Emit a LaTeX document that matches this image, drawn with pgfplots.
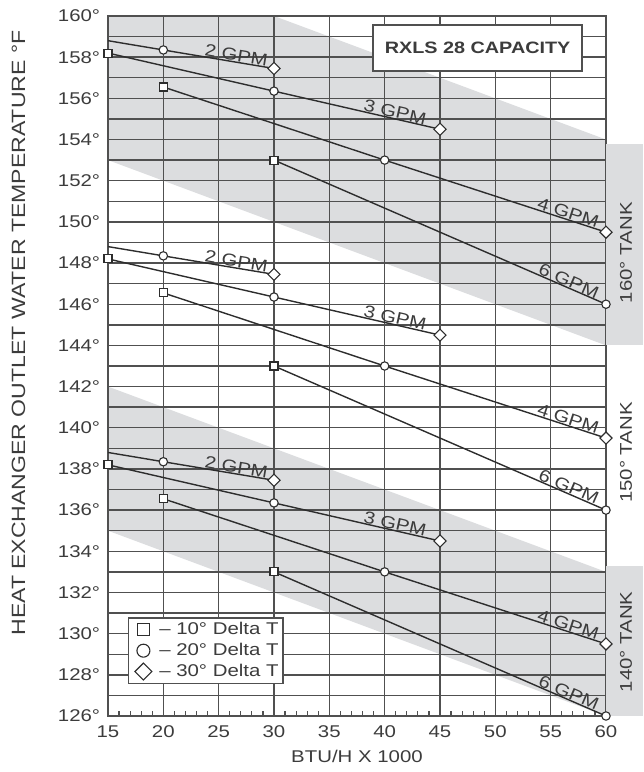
\documentclass[border=0pt]{standalone}
\usepackage{fontspec}
\setmainfont{Liberation Sans}[FakeStretch=1.2]
\usepackage{pgfplots}
\pgfplotsset{compat=1.18}
\definecolor{band}{RGB}{220,221,223}
\definecolor{gridc}{RGB}{80,80,80}
\definecolor{linec}{RGB}{45,45,45}
\definecolor{textc}{RGB}{60,60,60}
\begin{document}
\fontsize{17}{20}\selectfont
\begin{tikzpicture}
\begin{axis}[
  set layers,
  scale only axis, width=498pt, height=700pt,
  xmin=15, xmax=60, ymin=126, ymax=160,
  clip=false,
  xtick={15,20,...,60},
  xticklabels={15,20,25,30,35,40,45,50,55,60},
  ytick={126,128,...,160},
  yticklabels={126°,128°,130°,132°,134°,136°,138°,140°,142°,144°,146°,148°,150°,152°,154°,156°,158°,160°},
  minor x tick num=4, minor y tick num=1,
  xmajorgrids, ymajorgrids, yminorgrids,
  grid style={draw=gridc, line width=1.4pt},
  minor grid style={draw=gridc, line width=1.4pt},
  tick align=inside, tick pos=left,
  major tick length=0pt, minor tick length=5pt,
  every tick/.style={draw=gridc, line width=1.2pt},
  axis line style={draw=gridc, line width=2pt},
  tick label style={text=textc},
  yticklabel style={xshift=-2pt},
  xticklabel style={yshift=-4pt},
  xlabel={BTU/H X 1000},
  xlabel style={at={(axis description cs:0.5,-0.0571)}, anchor=center, text=textc},
  ylabel={HEAT EXCHANGER OUTLET WATER TEMPERATURE °F},
  ylabel style={at={(axis description cs:-0.1797,0.547)}, anchor=center, text=textc, font=\fontsize{19.2}{20}\selectfont},
  legend style={at={(axis cs:16.8,130.8)}, anchor=north west, draw=gridc, line width=1.4pt, fill=white, text=textc, inner sep=2pt, row sep=1pt, nodes={inner sep=2.5pt}},
  legend cell align=left,
  legend image code/.code={\path[draw=none,fill=none] (0cm,-0.1cm) rectangle (0.85cm,0.1cm); \draw[#1] plot coordinates {(0.45cm,0cm)};},
]
% legend
\addlegendimage{only marks, mark=square*, mark size=6pt, mark options={fill=white, draw=linec, line width=1.1pt}}
\addlegendentry{\hspace{2pt}-- 10° Delta T}
\addlegendimage{only marks, mark=*, mark size=6.5pt, mark options={fill=white, draw=linec, line width=1.1pt}}
\addlegendentry{\hspace{2pt}-- 20° Delta T}
\addlegendimage{only marks, mark=square*, mark size=6pt, mark options={fill=white, draw=linec, line width=1.1pt, rotate=45}}
\addlegendentry{\hspace{2pt}-- 30° Delta T}

% shaded bands
\addplot[forget plot, on layer=axis background, fill=band, draw=none] coordinates {(15,153) (15,160) (30,160) (60,154) (60,144)} -- cycle;
\addplot[forget plot, on layer=axis background, fill=band, draw=none] coordinates {(15,142) (60,133) (60,126) (15,135)} -- cycle;

% 160 tank
\addplot[forget plot, linec, line width=1.4pt] coordinates {(15,158.8) (20,158.35) (30,157.45)};
\addplot[forget plot, linec, line width=1.4pt] coordinates {(15,158.2) (30,156.35) (45,154.5)};
\addplot[forget plot, linec, line width=1.4pt] coordinates {(20,156.55) (40,153.0) (60,149.5)};
\addplot[forget plot, linec, line width=1.4pt] coordinates {(30,153.0) (60,146.0)};
% 150 tank
\addplot[forget plot, linec, line width=1.4pt] coordinates {(15,148.8) (20,148.35) (30,147.45)};
\addplot[forget plot, linec, line width=1.4pt] coordinates {(15,148.2) (30,146.35) (45,144.5)};
\addplot[forget plot, linec, line width=1.4pt] coordinates {(20,146.55) (40,143.0) (60,139.5)};
\addplot[forget plot, linec, line width=1.4pt] coordinates {(30,143.0) (60,136.0)};
% 140 tank
\addplot[forget plot, linec, line width=1.4pt] coordinates {(15,138.8) (20,138.35) (30,137.45)};
\addplot[forget plot, linec, line width=1.4pt] coordinates {(15,138.2) (30,136.35) (45,134.5)};
\addplot[forget plot, linec, line width=1.4pt] coordinates {(20,136.55) (40,133.0) (60,129.5)};
\addplot[forget plot, linec, line width=1.4pt] coordinates {(30,133.0) (60,126.0)};

% markers: 10 deg delta T (squares)
\addplot[forget plot, only marks, mark=square*, mark size=4pt, mark options={fill=white, draw=linec, line width=1.1pt}] coordinates {
 (15,158.2) (20,156.55) (30,153.0)
 (15,148.2) (20,146.55) (30,143.0)
 (15,138.2) (20,136.55) (30,133.0)};
% 20 deg delta T (circles)
\addplot[forget plot, only marks, mark=*, mark size=4.2pt, mark options={fill=white, draw=linec, line width=1.1pt}] coordinates {
 (20,158.35) (30,156.35) (40,153.0) (60,146.0)
 (20,148.35) (30,146.35) (40,143.0) (60,136.0)
 (20,138.35) (30,136.35) (40,133.0) (60,126.0)};
% 30 deg delta T (diamonds)
\addplot[forget plot, only marks, mark=square*, mark size=4.3pt, mark options={fill=white, draw=linec, line width=1.1pt, rotate=45}] coordinates {
 (30,157.45) (45,154.5) (60,149.5)
 (30,147.45) (45,144.5) (60,139.5)
 (30,137.45) (45,134.5) (60,129.5)};

% GPM labels
\path (axis cs:20,158.35) -- (axis cs:30,157.45) node[pos=0.65, sloped, anchor=south, inner sep=0.5pt, text=textc] {2 GPM};
\path (axis cs:15,158.2) -- (axis cs:45,154.5) node[pos=0.86, sloped, anchor=south, inner sep=0.5pt, text=textc] {3 GPM};
\path (axis cs:20,156.55) -- (axis cs:60,149.5) node[pos=0.91, sloped, anchor=south, inner sep=0.5pt, text=textc] {4 GPM};
\path (axis cs:30,153.0) -- (axis cs:60,146.0) node[pos=0.88, sloped, anchor=south, inner sep=0.5pt, text=textc] {6 GPM};

\path (axis cs:20,148.35) -- (axis cs:30,147.45) node[pos=0.65, sloped, anchor=south, inner sep=0.5pt, text=textc] {2 GPM};
\path (axis cs:15,148.2) -- (axis cs:45,144.5) node[pos=0.86, sloped, anchor=south, inner sep=0.5pt, text=textc] {3 GPM};
\path (axis cs:20,146.55) -- (axis cs:60,139.5) node[pos=0.91, sloped, anchor=south, inner sep=0.5pt, text=textc] {4 GPM};
\path (axis cs:30,143.0) -- (axis cs:60,136.0) node[pos=0.88, sloped, anchor=south, inner sep=0.5pt, text=textc] {6 GPM};

\path (axis cs:20,138.35) -- (axis cs:30,137.45) node[pos=0.65, sloped, anchor=south, inner sep=0.5pt, text=textc] {2 GPM};
\path (axis cs:15,138.2) -- (axis cs:45,134.5) node[pos=0.86, sloped, anchor=south, inner sep=0.5pt, text=textc] {3 GPM};
\path (axis cs:20,136.55) -- (axis cs:60,129.5) node[pos=0.91, sloped, anchor=south, inner sep=0.5pt, text=textc] {4 GPM};
\path (axis cs:30,133.0) -- (axis cs:60,126.0) node[pos=0.88, sloped, anchor=south, inner sep=0.5pt, text=textc] {6 GPM};

% title box
\node[draw=gridc, line width=1.4pt, fill=white, minimum width=209pt, minimum height=46pt, font=\bfseries\fontsize{16.5}{20}\selectfont, text=textc] at (axis cs:48.4,158.45) {RXLS 28 CAPACITY};

% tank labels
\fill[band] (axis cs:60,144) rectangle (axis cs:63.35,153.8);
\fill[band] (axis cs:60,126) rectangle (axis cs:63.35,133.3);
\node[rotate=90, text=textc] at (axis cs:61.8,148.5) {160° TANK};
\node[rotate=90, text=textc] at (axis cs:61.8,138.8) {150° TANK};
\node[rotate=90, text=textc] at (axis cs:61.8,129.6) {140° TANK};
\end{axis}
\path ([xshift=-108pt,yshift=-56pt]current axis.south west) rectangle ([xshift=37pt,yshift=16pt]current axis.north east);
\end{tikzpicture}
\end{document}
